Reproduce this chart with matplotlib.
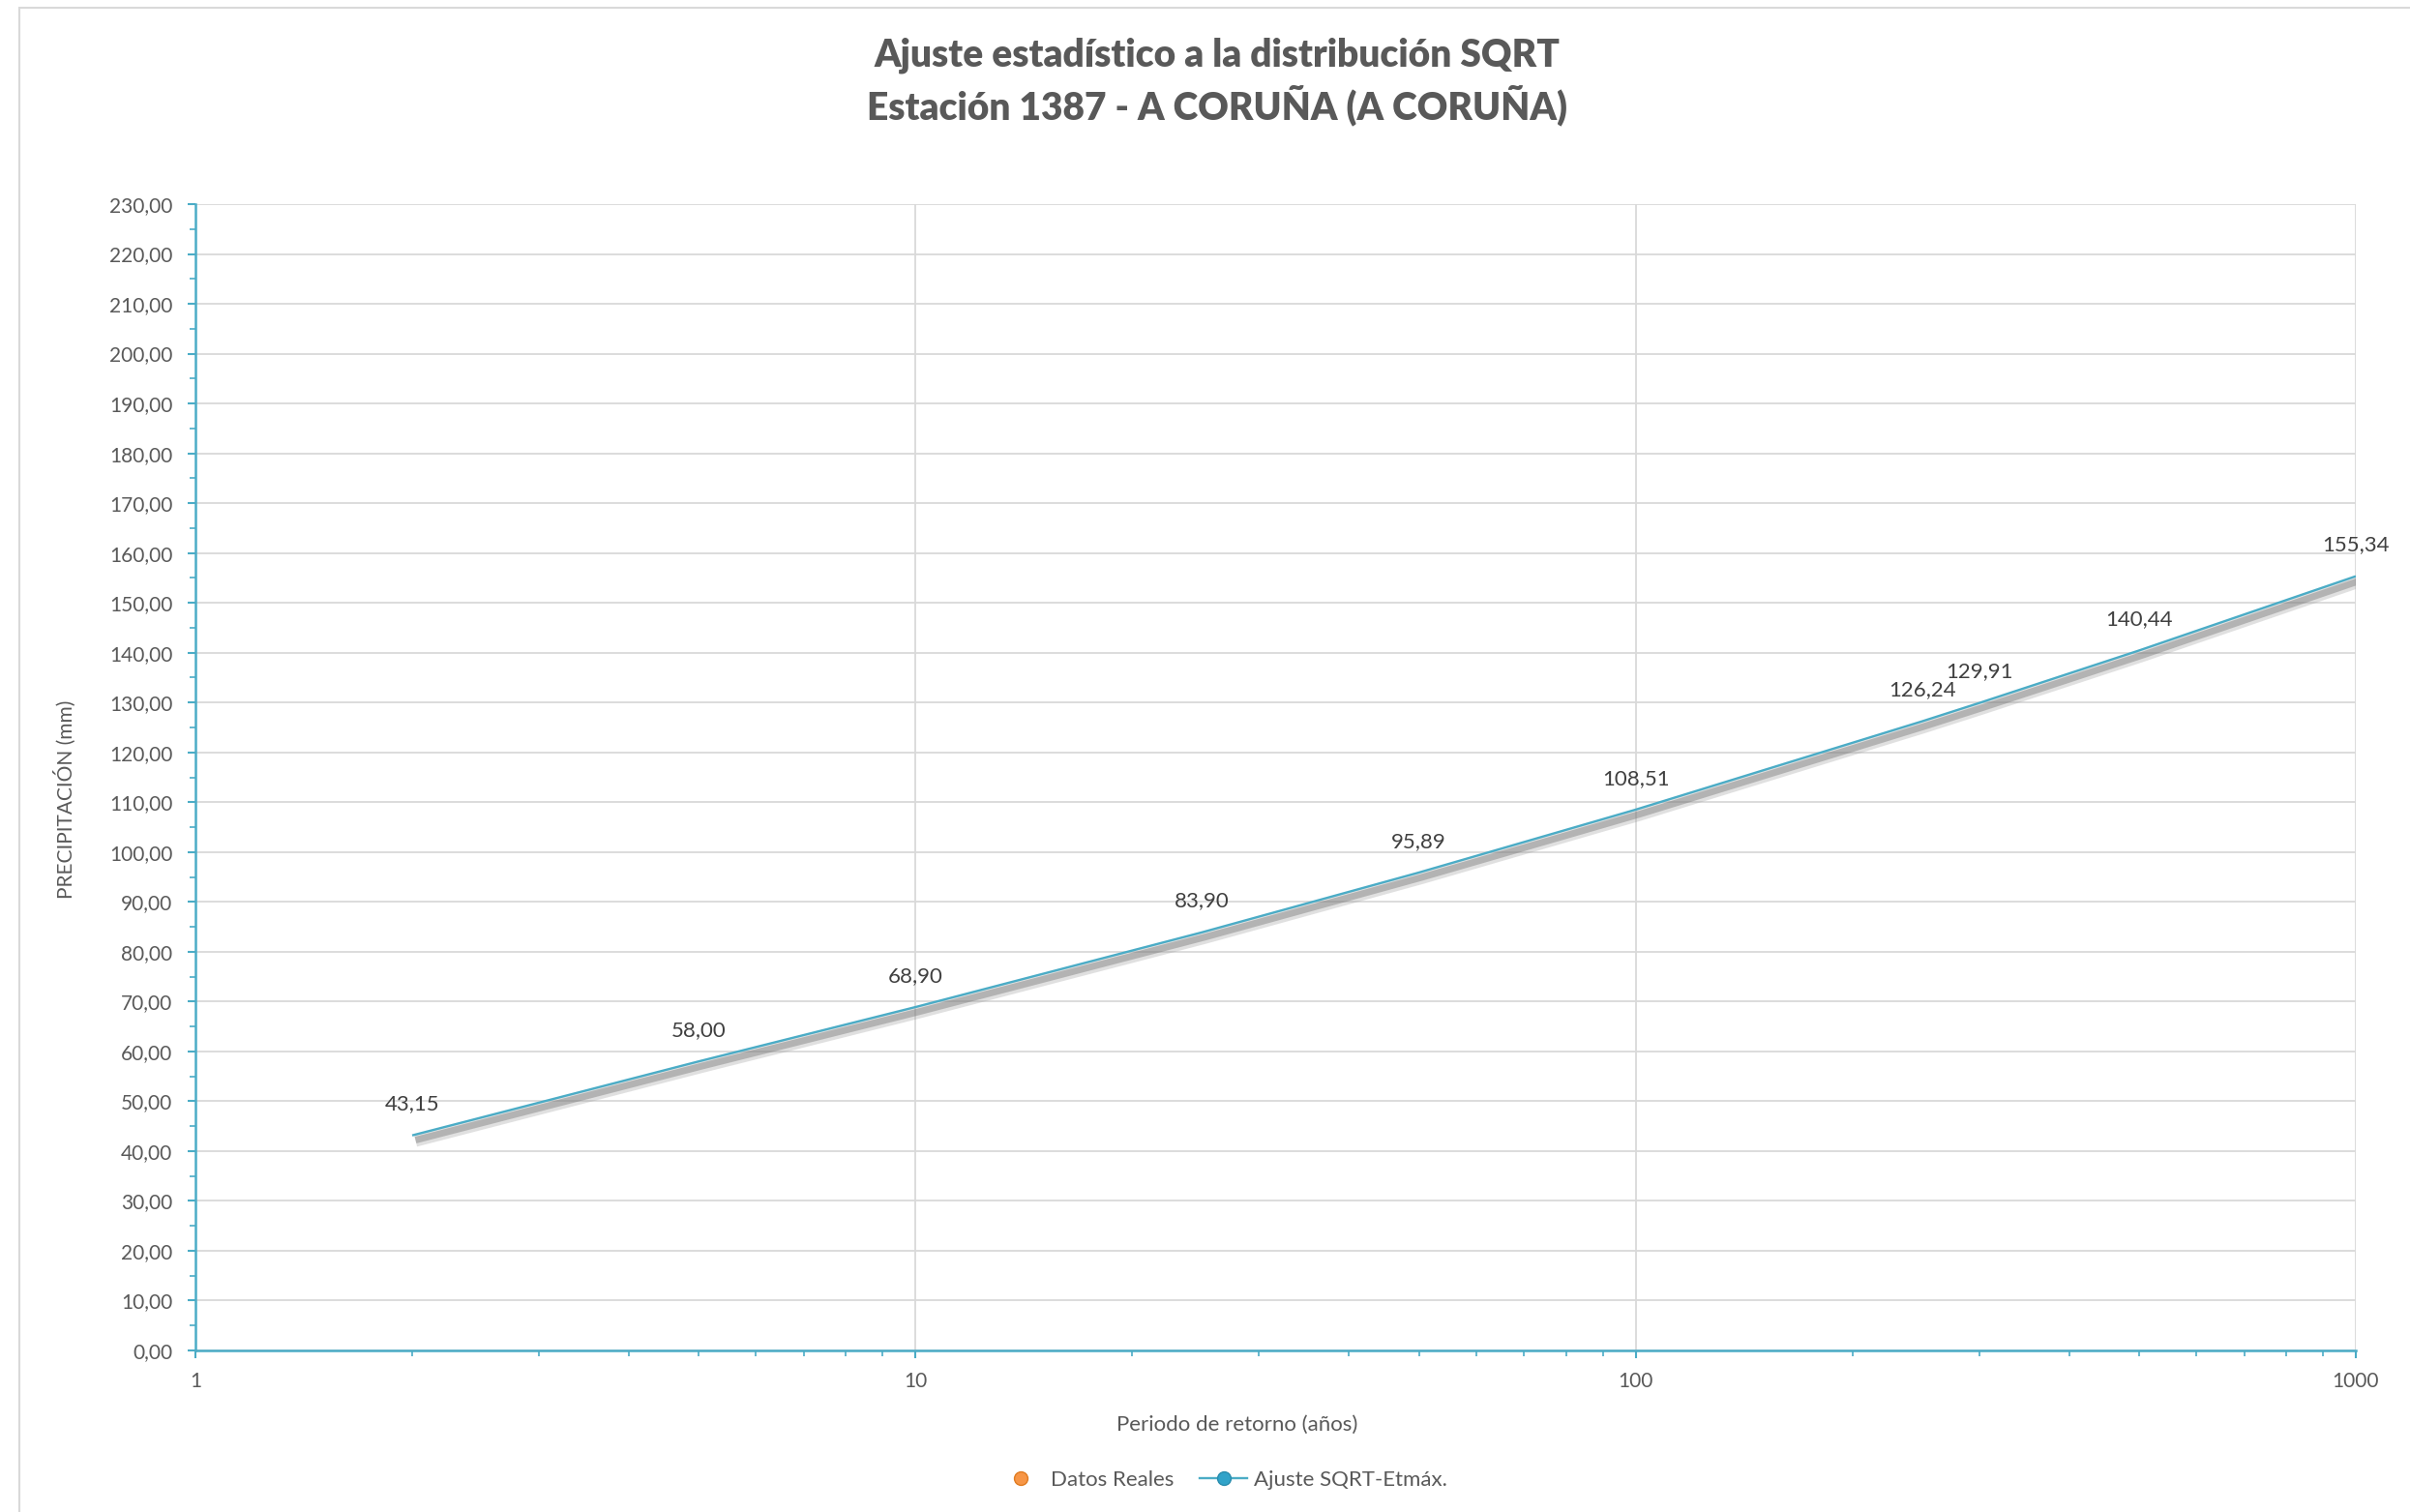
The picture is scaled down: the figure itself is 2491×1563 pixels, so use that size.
import matplotlib
matplotlib.use('Agg')
import matplotlib.pyplot as plt
import matplotlib.patheffects as pe
from matplotlib.lines import Line2D
from matplotlib.patches import Rectangle
from matplotlib.ticker import FixedLocator, FuncFormatter, LogLocator, NullFormatter

# datos del ajuste (periodo de retorno en años, precipitación en mm)
periodos = [2, 5, 10, 25, 50, 100, 250, 300, 500, 1000]
precip_ajuste = [43.15, 58.00, 68.90, 83.90, 95.89, 108.51, 126.24, 129.91, 140.44, 155.34]
x_ticks = [1, 10, 100, 1000]
y_ticks = list(range(0, 231, 10))

titulo = 'Ajuste estadístico a la distribución SQRT\nEstación 1387 - A CORUÑA (A CORUÑA)'
serie_real = 'Datos Reales'
serie_ajuste = 'Ajuste SQRT-Etmáx.'

TEAL = '#4BACC6'
GRID = '#D9D9D9'
TXT = '#595959'

plt.rcParams['font.family'] = ['Lato', 'DejaVu Sans']

W, H = 2491, 1563
fig = plt.figure(figsize=(W / 100, H / 100), dpi=100)
ax = fig.add_axes([202 / W, 1 - 1396 / H, (2435 - 202) / W, (1396 - 211) / H])

# marco exterior del gráfico
fig.patches.append(Rectangle((20 / W, -0.05), 1.2, 1 - 8 / H + 0.05, transform=fig.transFigure,
                             fill=False, edgecolor=GRID, linewidth=1.5))

line, = ax.plot(periodos, precip_ajuste, color=TEAL, lw=1.7, zorder=4, solid_capstyle='butt')
line.set_path_effects([
    pe.SimpleLineShadow(offset=(2.5, -4), shadow_color='#9a9a9a', alpha=0.3, linewidth=9),
    pe.SimpleLineShadow(offset=(2.5, -3.5), shadow_color='#707070', alpha=0.4, linewidth=5),
    pe.Normal(),
])

for t, p in zip(periodos, precip_ajuste):
    ax.annotate(f'{p:.2f}'.replace('.', ','), (t, p), xytext=(0, 16), textcoords='offset points',
                ha='center', va='bottom', fontsize=16, color='#404040')

ax.set_xscale('log')
ax.set_xlim(1, 1000)
ax.set_ylim(0, 230)
ax.xaxis.set_major_locator(FixedLocator(x_ticks))
ax.xaxis.set_major_formatter(FuncFormatter(lambda v, _: f'{v:g}'))
ax.xaxis.set_minor_locator(LogLocator(base=10, subs=range(2, 10)))
ax.xaxis.set_minor_formatter(NullFormatter())
ax.set_yticks(y_ticks)
ax.set_yticks([v + 5 for v in y_ticks[:-1]], minor=True)
ax.yaxis.set_major_formatter(FuncFormatter(lambda v, _: f'{v:.2f}'.replace('.', ',')))

ax.grid(True, which='major', color=GRID, lw=1.3)
ax.set_axisbelow(True)
for s in ['top', 'right']:
    ax.spines[s].set_visible(False)
for s in ['left', 'bottom']:
    ax.spines[s].set_color(TEAL)
    ax.spines[s].set_linewidth(1.8)
    ax.spines[s].set_zorder(5)

ax.tick_params(axis='both', which='major', direction='out', length=6, width=1.5, color=TEAL,
               labelsize=15, labelcolor=TXT)
ax.tick_params(axis='both', which='minor', direction='out', length=4, width=1.2, color=TEAL)
ax.tick_params(axis='y', which='major', pad=11)
ax.tick_params(axis='x', which='major', pad=10)

l1, l2 = titulo.split('\n')
fig.text(1258 / W, 1 - 57 / H, l1, ha='center', va='center', fontsize=28, fontweight='heavy', color=TXT)
fig.text(1258 / W, 1 - 109 / H, l2, ha='center', va='center', fontsize=28, fontweight='heavy', color=TXT)

fig.text(67 / W, 1 - 826 / H, 'PRECIPITACIÓN (mm)', rotation=90, ha='center', va='center',
         fontsize=15, color=TXT)
fig.text(1279 / W, 1 - 1473 / H, 'Periodo de retorno (años)', ha='center', va='center',
         fontsize=16, color=TXT)

handles = [
    Line2D([], [], ls='none', marker='o', ms=10, markerfacecolor='#F79646', markeredgecolor='#E07B20'),
    Line2D([], [], color=TEAL, lw=1.7, marker='o', ms=10, markerfacecolor='#31A3C9',
           markeredgecolor='#2A8DAE'),
]
fig.legend(handles, [serie_real, serie_ajuste], loc='center', bbox_to_anchor=(1263 / W, 1 - 1530 / H),
           ncol=2, frameon=False, fontsize=16, labelcolor=TXT, handlelength=2.2, columnspacing=1.2,
           handletextpad=0.3)

fig.savefig('out.png', dpi=100, facecolor='white')
